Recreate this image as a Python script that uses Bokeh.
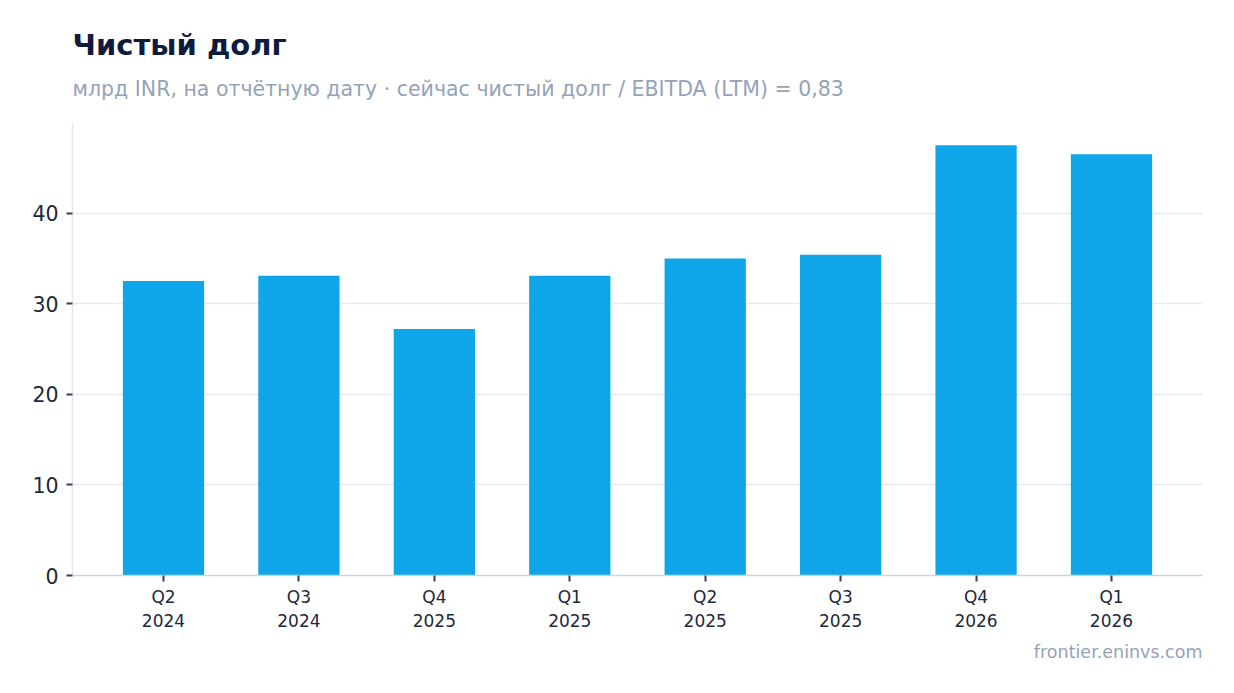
from bokeh.plotting import figure
from bokeh.models import ColumnDataSource, FactorRange, Range1d, Title, FixedTicker
from bokeh.embed import file_html
from bokeh.resources import INLINE

quarters = ["Q2\n2024", "Q3\n2024", "Q4\n2025", "Q1\n2025", "Q2\n2025", "Q3\n2025", "Q4\n2026", "Q1\n2026"]
net_debt = [32.5, 33.1, 27.2, 33.1, 35.0, 35.4, 47.5, 46.5]
y_ticks = [0, 10, 20, 30, 40]

title_text = "Чистый долг"
subtitle_text = "млрд INR, на отчётную дату · сейчас чистый долг / EBITDA (LTM) = 0,83"
footer_text = "frontier.eninvs.com"

FONT = "DejaVu Sans"
W, H = 1218, 677
LEFT, RIGHT, TOP, BOTTOM = 72, 1202, 123, 575

src = ColumnDataSource(data=dict(q=quarters, v=net_debt))

p = figure(
    x_range=FactorRange(factors=quarters, range_padding=0.172, range_padding_units="absolute"),
    y_range=Range1d(0, 49.9),
    width=W, height=H,
    output_backend="svg", toolbar_location=None, title=None,
    min_border_left=LEFT, min_border_right=W - RIGHT,
    min_border_top=TOP, min_border_bottom=H - BOTTOM,
)

p.vbar(x="q", top="v", width=0.6, source=src, fill_color="#0ea5e9", line_color=None)

# stacked outward from the frame: subtitle first, then title
p.add_layout(Title(text=subtitle_text, align="left", vertical_align="bottom", text_font=FONT,
                   text_font_size="20.5px", text_font_style="normal", text_color="#94a3b8",
                   standoff=46, offset=0), "above")
p.add_layout(Title(text=title_text, align="left", vertical_align="bottom", text_font=FONT,
                   text_font_size="29px", text_font_style="bold", text_color="#0f1b3d",
                   standoff=-20, offset=0), "above")
p.add_layout(Title(text=footer_text, align="right", vertical_align="bottom", text_font=FONT,
                   text_font_size="17.5px", text_font_style="normal", text_color="#94a3b8",
                   standoff=12, offset=0), "below")

p.outline_line_color = None
p.background_fill_color = "white"
p.border_fill_color = "white"

p.xgrid.grid_line_color = None
p.ygrid.grid_line_color = "#e5e9f0"
p.ygrid.grid_line_width = 1.5
p.ygrid.ticker = FixedTicker(ticks=y_ticks)

p.yaxis.ticker = FixedTicker(ticks=y_ticks)
p.yaxis.axis_line_color = "#e2e8f0"
p.yaxis.axis_line_width = 1.5
p.yaxis.major_tick_line_color = "#334155"
p.yaxis.major_tick_line_width = 2
p.yaxis.major_tick_out = 6
p.yaxis.major_tick_in = 0
p.yaxis.minor_tick_line_color = None
p.yaxis.major_label_text_font = FONT
p.yaxis.major_label_text_font_size = "20.5px"
p.yaxis.major_label_text_color = "#1e293b"
p.yaxis.major_label_standoff = 8

p.xaxis.axis_line_color = "#cbd5e1"
p.xaxis.axis_line_width = 1.5
p.xaxis.major_tick_line_color = "#334155"
p.xaxis.major_tick_line_width = 2
p.xaxis.major_tick_out = 6
p.xaxis.major_tick_in = 0
p.xaxis.major_label_text_font = FONT
p.xaxis.major_label_text_font_size = "17px"
p.xaxis.major_label_text_color = "#1e293b"
p.xaxis.major_label_standoff = 5

open("out.html", "w").write(file_html(p, INLINE))
